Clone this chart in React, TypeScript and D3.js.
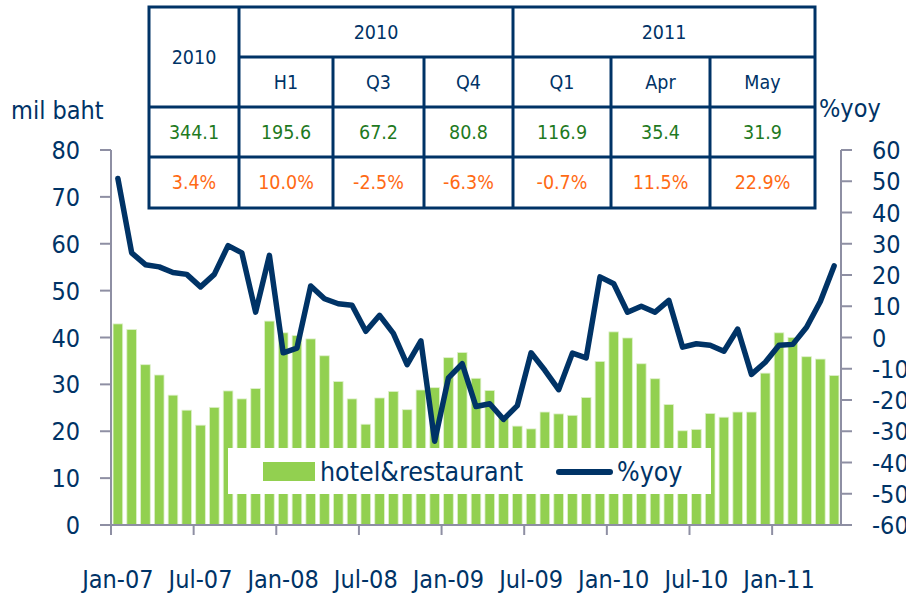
import React from 'react';
import * as d3 from 'd3';

const months = [
  'Jan-07', 'Feb-07', 'Mar-07', 'Apr-07', 'May-07', 'Jun-07', 'Jul-07', 'Aug-07', 'Sep-07', 'Oct-07', 'Nov-07', 'Dec-07',
  'Jan-08', 'Feb-08', 'Mar-08', 'Apr-08', 'May-08', 'Jun-08', 'Jul-08', 'Aug-08', 'Sep-08', 'Oct-08', 'Nov-08', 'Dec-08',
  'Jan-09', 'Feb-09', 'Mar-09', 'Apr-09', 'May-09', 'Jun-09', 'Jul-09', 'Aug-09', 'Sep-09', 'Oct-09', 'Nov-09', 'Dec-09',
  'Jan-10', 'Feb-10', 'Mar-10', 'Apr-10', 'May-10', 'Jun-10', 'Jul-10', 'Aug-10', 'Sep-10', 'Oct-10', 'Nov-10', 'Dec-10',
  'Jan-11', 'Feb-11', 'Mar-11', 'Apr-11', 'May-11',
];

// hotel&restaurant, mil baht
const hotelRestaurant = [
  42.9, 41.7, 34.2, 32.0, 27.7, 24.5, 21.3, 25.1, 28.6, 26.9, 29.1, 43.5,
  41.0, 40.4, 39.7, 36.1, 30.6, 26.9, 21.5, 27.1, 28.5, 24.6, 28.8, 29.3,
  35.7, 36.8, 31.3, 28.7, 23.0, 21.1, 20.5, 24.1, 23.7, 23.4, 27.2, 34.9,
  41.2, 39.9, 34.4, 31.2, 25.7, 20.1, 20.4, 23.8, 23.0, 24.1, 24.1, 32.4,
  41.0, 40.0, 35.9, 35.4, 31.9,
];

// %yoy
const yoy = [
  50.9, 27.1, 23.3, 22.6, 20.8, 20.2, 16.2, 20.2, 29.4, 27.1, 8.1, 26.3,
  -4.9, -3.4, 16.5, 12.4, 10.8, 10.3, 2.0, 7.1, 1.3, -8.7, -1.1, -33.2,
  -12.9, -8.4, -22.1, -21.2, -26.2, -21.8, -4.9, -10.5, -16.7, -5.0, -6.5, 19.4,
  17.2, 8.1, 10.0, 8.1, 11.9, -3.1, -2.0, -2.5, -4.4, 2.7, -11.8, -7.9,
  -2.5, -2.2, 3.3, 11.5, 22.9,
];

const leftTicks = [0, 10, 20, 30, 40, 50, 60, 70, 80];
const rightTicks = [-60, -50, -40, -30, -20, -10, 0, 10, 20, 30, 40, 50, 60];

const tableYears = ['2010', '2011'];
const tablePeriods = ['H1', 'Q3', 'Q4', 'Q1', 'Apr', 'May'];
const tableValues = ['344.1', '195.6', '67.2', '80.8', '116.9', '35.4', '31.9'];
const tablePct = ['3.4%', '10.0%', '-2.5%', '-6.3%', '-0.7%', '11.5%', '22.9%'];

const W = 906;
const H = 594;
const left = 111;
const right = 841;
const top = 150;
const bottom = 525;

const navy = '#003366';
const green = '#92d050';
const axisGray = '#8e8fa3';
const font = '"DejaVu Sans Condensed", "DejaVu Sans", sans-serif';

const x = d3.scaleBand<string>().domain(months).range([left, right]).paddingInner(0.3).paddingOuter(0.15);
const yL = d3.scaleLinear().domain([0, 80]).range([bottom, top]);
const yR = d3.scaleLinear().domain([-60, 60]).range([bottom, top]);

const line = d3
  .line<number>()
  .x((_, i) => (x(months[i]) as number) + x.bandwidth() / 2)
  .y((d) => yR(d));

// table grid
const colEdges = [149, 239, 333, 424, 513, 611, 710, 815];
const rowEdges = [7, 57, 107, 157, 208];

const Table = () => {
  const cx = (i: number) => (colEdges[i] + colEdges[i + 1]) / 2;
  const cy = (i: number) => (rowEdges[i] + rowEdges[i + 1]) / 2;
  return (
    <g fontFamily={font} fontSize={19.5} textAnchor="middle">
      <rect x={149} y={7} width={815 - 149} height={208 - 7} fill="white" stroke={navy} strokeWidth={3} />
      <line x1={239} x2={239} y1={7} y2={208} stroke={navy} strokeWidth={3} />
      <line x1={513} x2={513} y1={7} y2={208} stroke={navy} strokeWidth={3} />
      {[2, 3, 5, 6].map((c) => (
        <line key={c} x1={colEdges[c]} x2={colEdges[c]} y1={57} y2={208} stroke={navy} strokeWidth={3} />
      ))}
      <line x1={239} x2={815} y1={57} y2={57} stroke={navy} strokeWidth={3} />
      {[107, 157].map((r) => (
        <line key={r} x1={149} x2={815} y1={r} y2={r} stroke={navy} strokeWidth={3} />
      ))}
      <text x={cx(0)} y={57} dy="0.35em" fill={navy}>2010</text>
      <text x={(239 + 513) / 2} y={cy(0)} dy="0.35em" fill={navy}>{tableYears[0]}</text>
      <text x={(513 + 815) / 2} y={cy(0)} dy="0.35em" fill={navy}>{tableYears[1]}</text>
      {tablePeriods.map((p, i) => (
        <text key={p} x={cx(i + 1)} y={cy(1)} dy="0.35em" fill={navy}>{p}</text>
      ))}
      {tableValues.map((v, i) => (
        <text key={'v' + i} x={cx(i)} y={cy(2)} dy="0.35em" fill="#1f7a1f">{v}</text>
      ))}
      {tablePct.map((v, i) => (
        <text key={'p' + i} x={cx(i)} y={cy(3)} dy="0.35em" fill="#ff6a14">{v}</text>
      ))}
    </g>
  );
};

export default function App() {
  const step = x.step();
  const tickIdx = months.map((_, i) => i).filter((i) => i % 6 === 0);
  return (
    <svg width={W} height={H} style={{ position: 'absolute', left: 0, top: 0, background: 'white' }}>
      {/* bars */}
      {hotelRestaurant.map((v, i) => (
        <rect
          key={i}
          x={x(months[i])}
          y={yL(v)}
          width={x.bandwidth()}
          height={bottom - yL(v)}
          fill={green}
          stroke="#dff0cc"
          strokeWidth={0.8}
        />
      ))}

      {/* legend */}
      <rect x={228} y={448} width={483} height={46} fill="white" />
      <rect x={263} y={462} width={52} height={19} fill={green} />
      <text x={320} y={481} fontFamily={font} fontSize={26.5} fill={navy}>hotel&amp;restaurant</text>
      <line x1={559} x2={610} y1={472} y2={472} stroke={navy} strokeWidth={6} strokeLinecap="round" />
      <text x={617} y={481} fontFamily={font} fontSize={26.5} fill={navy}>%yoy</text>

      {/* yoy line */}
      <path d={line(yoy) || ''} fill="none" stroke={navy} strokeWidth={5.5} strokeLinejoin="round" strokeLinecap="round" />

      {/* axes */}
      <g stroke={axisGray} strokeWidth={2}>
        <line x1={left} x2={left} y1={top} y2={bottom} />
        <line x1={right} x2={right} y1={top} y2={bottom} />
        <line x1={left} x2={right} y1={bottom} y2={bottom} />
        {leftTicks.map((t) => (
          <line key={'l' + t} x1={left - 11} x2={left} y1={yL(t)} y2={yL(t)} />
        ))}
        {rightTicks.map((t) => (
          <line key={'r' + t} x1={right} x2={right + 11} y1={yR(t)} y2={yR(t)} />
        ))}
        {tickIdx.map((i) => (
          <line key={'x' + i} x1={left + i * step} x2={left + i * step} y1={bottom} y2={bottom + 10} />
        ))}
      </g>

      <g fontFamily={font} fontSize={25} fill={navy}>
        {leftTicks.map((t) => (
          <text key={'lt' + t} x={80} y={yL(t)} dy="0.36em" textAnchor="end">{t}</text>
        ))}
        {rightTicks.map((t) => (
          <text key={'rt' + t} x={872} y={yR(t)} dy="0.36em" textAnchor="start">{t}</text>
        ))}
        {tickIdx.map((i) => (
          <text key={'xt' + i} x={(x(months[i]) as number) + x.bandwidth() / 2} y={588} textAnchor="middle" fontSize={25}>
            {months[i]}
          </text>
        ))}
        <text x={11} y={119} fontSize={25}>mil baht</text>
        <text x={819} y={117} fontSize={25}>%yoy</text>
      </g>

      <Table />
    </svg>
  );
}
